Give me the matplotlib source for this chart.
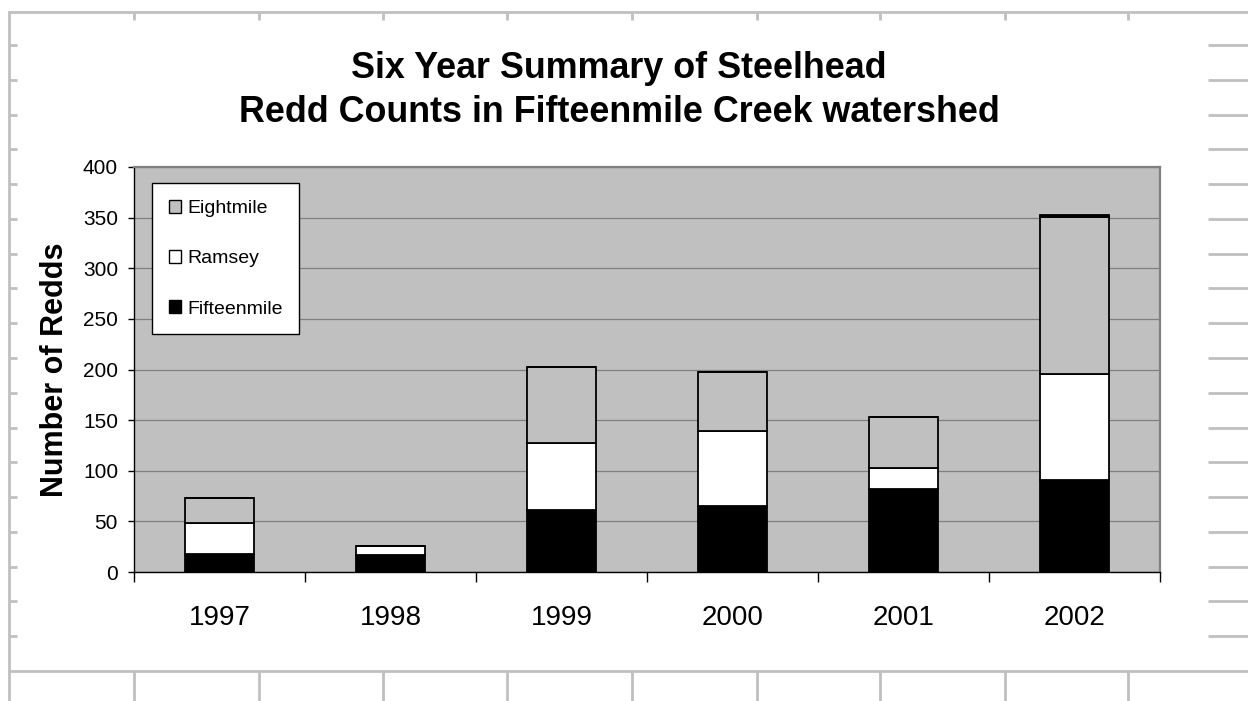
import matplotlib
matplotlib.use("Agg")
import matplotlib.pyplot as plt
from matplotlib.patches import Patch
from matplotlib.lines import Line2D
import numpy as np

plt.rcParams['font.family'] = ['Liberation Sans', 'DejaVu Sans']

# Redd counts by tributary and year
years = ['1997', '1998', '1999', '2000', '2001', '2002']
fifteenmile = [18, 17, 61, 65, 82, 91]
ramsey = [30, 9, 66, 74, 21, 105]
eightmile = [25, 0, 75, 59, 50, 155]
other = [0, 0, 0, 0, 0, 2]

W, H = 1248, 701
fig = plt.figure(figsize=(W / 100, H / 100), dpi=100)
fig.patch.set_facecolor('white')


def fx(px):
    return px / W


def fy(py):
    return (H - py) / H


# spreadsheet cell grid showing around the embedded chart
grid_kw = dict(color='#C0C0C0', lw=2.0, transform=fig.transFigure, zorder=0,
               solid_capstyle='butt')
col_x = [134, 259, 383, 507, 632, 757, 880, 1005, 1128]
row_y = [45 + 34.78 * k for k in range(18)]
fig.add_artist(Line2D([fx(8), fx(W)], [fy(12), fy(12)], **grid_kw))
fig.add_artist(Line2D([fx(8), fx(W)], [fy(671), fy(671)], **grid_kw))
fig.add_artist(Line2D([fx(9), fx(9)], [fy(11), fy(H)], **grid_kw))
for cx in col_x:
    fig.add_artist(Line2D([fx(cx), fx(cx)], [fy(12), fy(20)], **grid_kw))
    fig.add_artist(Line2D([fx(cx), fx(cx)], [fy(671), fy(H)], **grid_kw))
for ry in row_y:
    fig.add_artist(Line2D([fx(9), fx(17)], [fy(ry), fy(ry)], **grid_kw))
    fig.add_artist(Line2D([fx(1208), fx(W)], [fy(ry), fy(ry)], **grid_kw))

ax = fig.add_axes([fx(134), fy(572), fx(1160) - fx(134), fy(167) - fy(572)])
ax.set_facecolor('#C0C0C0')

x = np.arange(len(years))
bw = 0.4
edge = dict(edgecolor='black', linewidth=1.3, zorder=3)
ax.bar(x, fifteenmile, bw, color='black', **edge)
ax.bar(x, ramsey, bw, bottom=fifteenmile, color='white', **edge)
base3 = np.array(fifteenmile) + np.array(ramsey)
ax.bar(x, eightmile, bw, bottom=base3, color='#C0C0C0', **edge)
base4 = base3 + np.array(eightmile)
ax.bar(x, other, bw, bottom=base4, color='black', **edge)

ax.set_xlim(-0.5, len(years) - 0.5)
ax.set_ylim(0, 400)
ax.set_yticks(np.arange(0, 401, 50))
ax.yaxis.grid(True, color='#808080', lw=0.9, zorder=1)
ax.set_axisbelow(True)

ax.set_xticks(x)
ax.set_xticklabels(years, fontsize=20)
ax.set_xticks(np.arange(-0.5, len(years), 1.0), minor=True)
ax.tick_params(axis='x', which='major', length=0, pad=24)
ax.tick_params(axis='x', which='minor', length=7, width=1, color='black')
ax.tick_params(axis='y', which='major', length=4.5, width=1, color='black',
               labelsize=15, pad=7)

for s in ['top', 'right']:
    ax.spines[s].set_color('#808080')
    ax.spines[s].set_linewidth(1.6)
for s in ['left', 'bottom']:
    ax.spines[s].set_color('black')
    ax.spines[s].set_linewidth(1.0)

ax.set_ylabel('Number of Redds', fontsize=22, fontweight='bold', labelpad=9)

fig.text(fx(619), fy(69), 'Six Year Summary of Steelhead', ha='center',
         va='center', fontsize=25.8, fontweight='bold')
fig.text(fx(619), fy(112), 'Redd Counts in Fifteenmile Creek watershed',
         ha='center', va='center', fontsize=25.8, fontweight='bold')

handles = [Patch(facecolor='#C0C0C0', edgecolor='black', lw=1),
           Patch(facecolor='white', edgecolor='black', lw=1),
           Patch(facecolor='black', edgecolor='black', lw=1)]
labels = ['Eightmile', 'Ramsey', 'Fifteenmile']
leg = ax.legend(handles, labels, loc='upper left',
                bbox_to_anchor=((152 - 134) / 1026, (572 - 183) / 405),
                fontsize=14, frameon=True, fancybox=False, framealpha=1,
                edgecolor='black', borderpad=0.85, labelspacing=1.70,
                handlelength=0.65, handleheight=0.65, handletextpad=0.3,
                borderaxespad=0)
leg.get_frame().set_linewidth(1.0)

fig.savefig('out.png', dpi=100)
